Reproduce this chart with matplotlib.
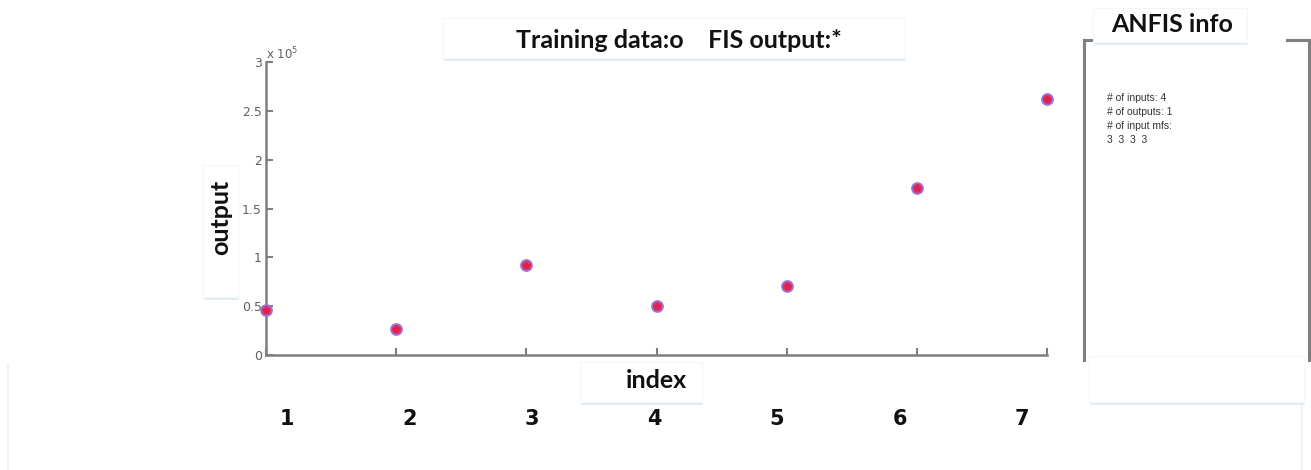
import matplotlib
matplotlib.use("Agg")
import matplotlib.pyplot as plt
from matplotlib.patches import Rectangle
from matplotlib.lines import Line2D

# ---- data ----
index = [1, 2, 3, 4, 5, 6, 7]
training_data = [0.46e5, 0.27e5, 0.92e5, 0.50e5, 0.71e5, 1.71e5, 2.62e5]
fis_output = [0.46e5, 0.27e5, 0.92e5, 0.50e5, 0.71e5, 1.71e5, 2.62e5]
y_ticks = [0, 0.5e5, 1e5, 1.5e5, 2e5, 2.5e5, 3e5]
y_tick_labels = ["0", "0.5", "1", "1.5", "2", "2.5", "3"]
index_labels = ["1", "2", "3", "4", "5", "6", "7"]
info_lines = ["# of inputs: 4", "# of outputs: 1", "# of input mfs:", "3  3  3  3"]

W, H = 1311, 470
fig = plt.figure(figsize=(W / 100, H / 100), dpi=100)
fig.patch.set_facecolor("white")


def fx(px):
    return px / W


def fy(py):
    return 1 - py / H


AXIS_GRAY = "#7f7f7f"

# ---- main axes ----
ax = fig.add_axes([fx(266), fy(355), fx(1047) - fx(266), fy(62) - fy(355)])
ax.set_xlim(1, 7)
ax.set_ylim(0, 3e5)
for side in ("top", "right"):
    ax.spines[side].set_visible(False)
for side in ("left", "bottom"):
    ax.spines[side].set_color(AXIS_GRAY)
    ax.spines[side].set_linewidth(1.8)
ax.set_xticks(index)
ax.set_xticklabels([])
ax.set_yticks(y_ticks)
ax.set_yticklabels(y_tick_labels)
ax.tick_params(axis="both", direction="in", length=5, width=1.5, color=AXIS_GRAY,
               labelsize=9, labelcolor="#606060", pad=3)
ax.patch.set_alpha(0)

ax.plot(index, training_data, linestyle="none", marker="o", markersize=8,
        markerfacecolor="#d8386a", markeredgecolor="#9a78e0", markeredgewidth=1.2,
        clip_on=False, zorder=3)
ax.plot(index, fis_output, linestyle="none", marker="*", markersize=6,
        color="#e02050", clip_on=False, zorder=4)

ax.text(0.0, 1.0, r"x 10$^5$", transform=ax.transAxes, fontsize=8.5,
        color="#606060", ha="left", va="bottom")

# ---- bold index labels ----
ax2 = fig.add_axes([fx(287), fy(409), fx(1022) - fx(287), 0.001])
ax2.set_xlim(1, 7)
ax2.set_xticks(index)
ax2.set_xticklabels(index_labels, fontsize=15, fontweight="heavy",
                    family="DejaVu Sans", color="#111111")
ax2.tick_params(axis="x", length=0, pad=0)
ax2.set_yticks([])
for s in ax2.spines.values():
    s.set_visible(False)
ax2.patch.set_alpha(0)


# ---- text boxes with soft shadow ----
def label_box(x0, y0, x1, y1, text, size, rotation=0, cx=None, cy=None):
    shadow = Rectangle((fx(x0 + 1), fy(y1 + 3)), fx(x1 - x0), fy(y0) - fy(y1),
                       transform=fig.transFigure, facecolor="#e3ebf5",
                       edgecolor="none", zorder=5)
    box = Rectangle((fx(x0), fy(y1)), fx(x1 - x0), fy(y0) - fy(y1),
                    transform=fig.transFigure, facecolor="white",
                    edgecolor="#f2f5fa", linewidth=0.8, zorder=6)
    fig.add_artist(shadow)
    fig.add_artist(box)
    cx = (x0 + x1) / 2 if cx is None else cx
    cy = (y0 + y1) / 2 if cy is None else cy
    if text:
        fig.text(fx(cx), fy(cy), text, ha="center", va="center",
                 fontsize=size, fontweight="bold", family="Lato",
                 rotation=rotation, color="#111111", zorder=7)


label_box(443, 18, 905, 58, "Training data:o    FIS output:*", 18, cx=679, cy=40)
label_box(203, 165, 238, 297, "output", 18, rotation=90, cx=221, cy=217)
label_box(580, 362, 702, 402, "index", 18, cx=656, cy=381)

# ---- ANFIS info panel ----
panel_lines = [
    ((1084, 1084), (40, 360)),
    ((1084, 1093), (40, 40)),
    ((1287, 1309), (40, 40)),
    ((1309, 1309), (40, 360)),
]
for xs, ys in panel_lines:
    fig.add_artist(Line2D([fx(v) for v in xs], [fy(v) for v in ys],
                          transform=fig.transFigure, color=AXIS_GRAY,
                          linewidth=2.2, zorder=4))

# faint outline of the lower region
for xs, ys in [((8, 8), (365, 470)), ((1302, 1302), (400, 470))]:
    fig.add_artist(Line2D([fx(v) for v in xs], [fy(v) for v in ys],
                          transform=fig.transFigure, color="#eef2f8",
                          linewidth=1.5, zorder=1))

label_box(1089, 356, 1304, 402, "", 10)
label_box(1093, 8, 1247, 42, "ANFIS info", 18, cx=1172, cy=25)

for i, line in enumerate(info_lines):
    fig.text(fx(1107), fy(98 + i * 14), line, fontsize=7.5, color="#333333",
             ha="left", va="center", family="Liberation Sans")

fig.savefig("out.png", dpi=100)
